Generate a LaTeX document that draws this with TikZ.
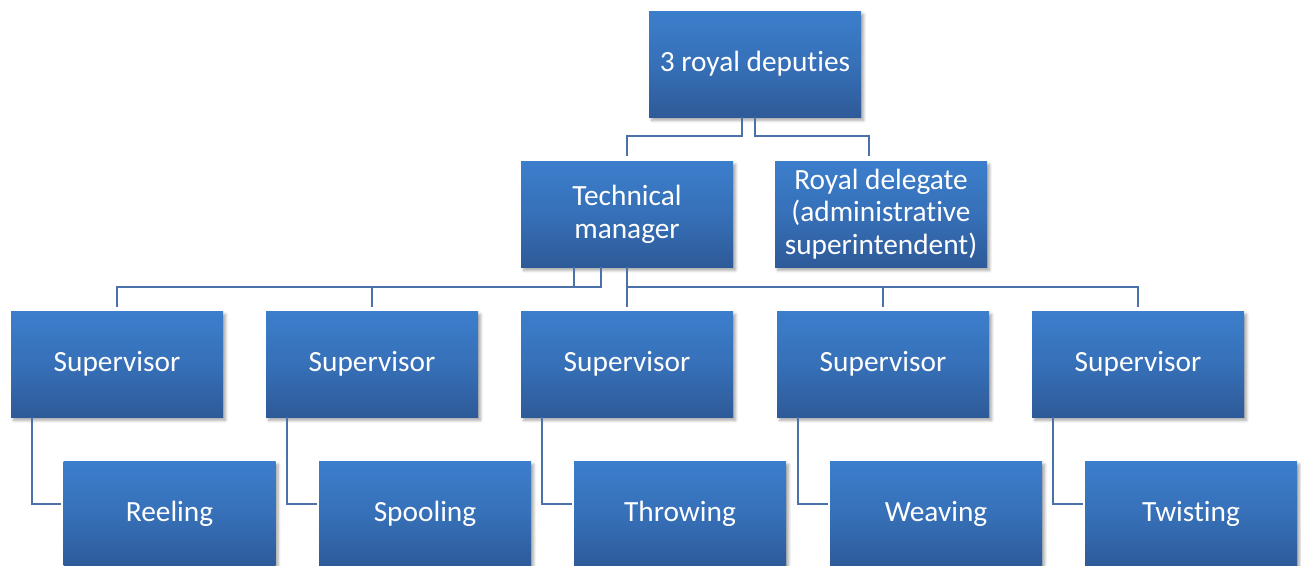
\documentclass[tikz,border=0pt]{standalone}
\usepackage{fontspec}
\setmainfont{Carlito}[Ligatures=NoCommon]
\usetikzlibrary{calc,shadows.blur}
\definecolor{boxtop}{RGB}{60,126,204}
\definecolor{boxmid}{RGB}{54,112,184}
\definecolor{boxbot}{RGB}{46,90,152}
\definecolor{linecol}{RGB}{74,114,168}
\tikzset{
  orgbox/.style={rectangle, minimum width=159pt, minimum height=79.5pt, inner sep=0pt,
    top color=boxtop, bottom color=boxbot, middle color=boxmid, text=white, align=center,
    font=\fontsize{22}{24.5}\selectfont,
    blur shadow={shadow xshift=2pt, shadow yshift=-2.5pt, shadow blur steps=6, shadow opacity=35, shadow blur radius=2pt}},
  conn/.style={draw=linecol, line width=1.4pt}
}
\begin{document}
\begin{tikzpicture}[x=0.75pt,y=-0.75pt]
\useasboundingbox (0,0) rectangle (1301,565);
\node[orgbox] (top) at (755,64) {3 royal deputies};
\node[orgbox] (tm) at (627,214) {Technical\\manager};
\node[orgbox] (rd) at (881,214) {Royal delegate\\(administrative\\superintendent)};
\foreach \i/\x in {1/117,2/372,3/627,4/883,5/1138}{
  \node[orgbox] (s\i) at (\x,364) {Supervisor};
}
\node[orgbox] (c1) at (169.5,514) {Reeling};
\node[orgbox] (c2) at (425,514) {Spooling};
\node[orgbox] (c3) at (680,514) {Throwing};
\node[orgbox] (c4) at (936,514) {Weaving};
\node[orgbox] (c5) at (1191,514) {Twisting};
% top level connectors
\draw[conn] ($(top.south)+(-13,0)$) -- ++(0,19) -| ($(tm.north)+(0,-5)$);
\draw[conn] (top.south) -- ++(0,19) -| ($(rd.north)+(-12,-5)$);
% technical manager to supervisors
\draw[conn] ($(tm.south)+(-53,0)$) -- ++(0,20) -| ($(s1.north)+(0,-4)$);
\draw[conn] ($(tm.south)+(-26,0)$) -- ++(0,20) -| ($(s2.north)+(0,-4)$);
\draw[conn] (tm.south) -- ($(s3.north)+(0,-4)$);
\draw[conn] (tm.south) -- ++(0,20) -| ($(s4.north)+(0,-4)$);
\draw[conn] (tm.south) -- ++(0,20) -| ($(s5.north)+(0,-4)$);
% supervisors to departments
\foreach \i in {1,...,5}{
  \draw[conn] ($(s\i.south west)+(21,0)$) |- ($(c\i.west)+(-2,-10)$);
}
\end{tikzpicture}
\end{document}
